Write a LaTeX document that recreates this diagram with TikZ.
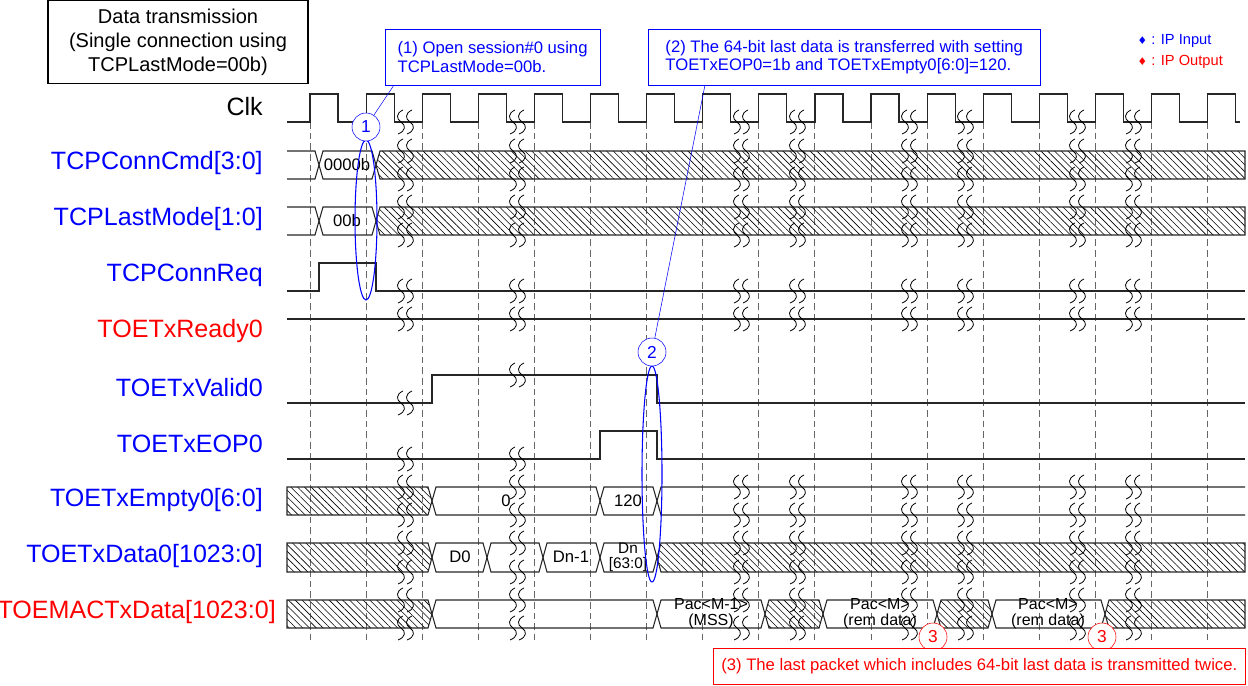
\documentclass[tikz,border=0pt]{standalone}
\usepackage{fontspec}
\setmainfont{Liberation Sans}
\newfontfamily\djv{DejaVu Sans}
\usetikzlibrary{patterns.meta}
\definecolor{lblue}{RGB}{0,0,255}
\definecolor{lred}{RGB}{255,0,0}
\newcommand\hexa[5]{\draw[#1] (#2,{(#4+#5)/2})--({#2+4},#4)--({#3-4},#4)--(#3,{(#4+#5)/2})--({#3-4},#5)--({#2+4},#5)--cycle;}
\newcommand\hatchL[3]{\draw[hatchbus] (287,#2)--({#1-4},#2)--(#1,{(#2+#3)/2})--({#1-4},#3)--(287,#3)--cycle;}
\newcommand\hatchR[3]{\draw[hatchbus] (1245,#2)--({#1+4},#2)--(#1,{(#2+#3)/2})--({#1+4},#3)--(1245,#3)--cycle;}
\newcommand\brk[2]{\draw[line width=0.6pt,black] ({#1-3},{#2-12}) .. controls ({#1-10},{#2-9}) and ({#1-10},{#2-3}) .. ({#1-5},#2) .. controls ({#1},{#2+3}) and ({#1},{#2+9}) .. ({#1-8},{#2+12});
\draw[line width=0.6pt,black] ({#1+6},{#2-12}) .. controls ({#1-1},{#2-9}) and ({#1-1},{#2-3}) .. ({#1+4},#2) .. controls ({#1+9},{#2+3}) and ({#1+9},{#2+9}) .. ({#1+1},{#2+12});}
\newcommand\brkall[1]{\foreach \bx in {406,518,742,798,910,966,1078,1134}{\brk{\bx}{#1}}}
\tikzset{
 sig/.style={line width=0.9pt,black!85},
 bus/.style={line width=0.8pt,black!85},
 hatchbus/.style={line width=0.8pt,black!85,pattern={Lines[angle=-45,distance=3.6pt,line width=0.45pt]}},
 lbl/.style={anchor=east,inner sep=0pt,font=\fontsize{18.8}{20}\selectfont},
 btxt/.style={font=\fontsize{12.5}{13}\selectfont,align=center,inner sep=0pt},
 grid/.style={dashed,black!60,line width=0.7pt,dash pattern=on 5pt off 3pt},
 note/.style={draw=lblue,text=lblue,font=\fontsize{12.5}{14}\selectfont,align=left,inner sep=3pt,fill=white},
 circ/.style={circle,draw,minimum size=21pt,inner sep=0pt,font=\fontsize{13}{13}\selectfont,fill=white}
}
\begin{document}
\begin{tikzpicture}[x=0.75pt,y=-0.75pt]
\useasboundingbox (0,0) rectangle (1248,685);
% grid
\foreach \k in {0,...,16}{\draw[grid] ({310+56.1*\k},122)--({310+56.1*\k},640);}
% labels
\node[lbl] (l1) at (263,107) {Clk};
\node[lbl,text=lblue] (l2) at (263,163) {TCPConnCmd[3:0]};
\node[lbl,text=lblue] (l3) at (263,219) {TCPLastMode[1:0]};
\node[lbl,text=lblue] (l4) at (263,275) {TCPConnReq};
\node[lbl,text=lred] (l5) at (263,331) {TOETxReady0};
\node[lbl,text=lblue] (l6) at (263,388) {TOETxValid0};
\node[lbl,text=lblue] (l7) at (263,444) {TOETxEOP0};
\node[lbl,text=lblue] (l8) at (263,500) {TOETxEmpty0[6:0]};
\node[lbl,text=lblue] (l9) at (263,556) {TOETxData0[1023:0]};
\node[lbl,text=lred] (l10) at (276,612) {TOEMACTxData[1023:0]};
% clock
\draw[sig] (287,122) \foreach \k in {0,...,16}{ -- ({310+56.1*\k},122) -- ({310+56.1*\k},94) -- ({338+56.1*\k},94) -- ({338+56.1*\k},122)} -- (1240,122);
\brkall{122}
% ConnCmd
\draw[bus] (287,151)--(315,151)--(319,165)--(315,179)--(287,179);
\hexa{bus}{319}{376}{151}{179}
\node[btxt] (t1) at (347,165) {0000b};
\hatchR{376}{151}{179}
\brkall{151}\brkall{179}
% LastMode
\draw[bus] (287,207)--(315,207)--(319,221)--(315,235)--(287,235);
\hexa{bus}{319}{376}{207}{235}
\node[btxt] (t2) at (347,221) {00b};
\hatchR{376}{207}{235}
\brkall{207}\brkall{235}
% ConnReq
\draw[sig] (287,291)--(319,291)--(319,263)--(376,263)--(376,291)--(1245,291);
\brkall{291}
% Ready
\draw[sig] (287,319)--(1245,319);
\brkall{319}
% Valid
\draw[sig] (287,403)--(432,403)--(432,375)--(657,375)--(657,403)--(1245,403);
\brk{406}{403}\brk{518}{375}
% EOP
\draw[sig] (287,459)--(600,459)--(600,431)--(657,431)--(657,459)--(1245,459);
\brk{406}{459}\brk{518}{459}
% Empty
\hatchL{432}{487}{515}
\hexa{bus}{432}{600}{487}{515}
\hexa{bus}{600}{657}{487}{515}
\draw[bus] (1245,487)--(661,487)--(657,501)--(661,515)--(1245,515);
\node[btxt] (t3) at (506,501) {0};
\node[btxt] (t4) at (628,501) {120};
\brkall{487}\brkall{515}
% Data0
\hatchL{432}{543}{572}
\hexa{bus}{432}{487}{543}{572}
\hexa{bus}{487}{543}{543}{572}
\hexa{bus}{543}{600}{543}{572}
\hexa{bus}{600}{657}{543}{572}
\hatchR{657}{543}{572}
\node[btxt] (t5) at (460,557) {D0};
\node[btxt] (t6) at (571,557) {Dn-1};
\node[btxt,font=\fontsize{11.5}{11}\selectfont] (t7) at (628,557) {Dn\\{}[63:0]};
\brkall{543}\brkall{572}
% MAC
\hatchL{432}{600}{628}
\hexa{bus}{432}{657}{600}{628}
\hexa{bus}{657}{765}{600}{628}
\hexa{hatchbus}{765}{823}{600}{628}
\hexa{bus}{823}{937}{600}{628}
\hexa{hatchbus}{937}{992}{600}{628}
\hexa{bus}{992}{1105}{600}{628}
\hatchR{1105}{600}{628}
\node[btxt,font=\fontsize{12}{12}\selectfont] (t8) at (711,614) {Pac<M-1>\\(MSS)};
\node[btxt,font=\fontsize{12}{12}\selectfont] (t9) at (880,614) {Pac<M>\\(rem data)};
\node[btxt,font=\fontsize{12}{12}\selectfont] (t10) at (1048,614) {Pac<M>\\(rem data)};
\brkall{600}\brkall{628}
% title
\node[draw,line width=0.8pt,minimum width=195pt,minimum height=62pt,align=center,font=\fontsize{15}{18}\selectfont,inner sep=3pt] (title) at (178,42) {Data transmission\\(Single connection using\\TCPLastMode=00b)};
% legend
\node[anchor=west,text=lblue,font=\fontsize{11}{12}\selectfont] (lg1) at (1133,41) {{\djv\fontsize{8}{8}\selectfont ♦} : IP Input};
\node[anchor=west,text=lred,font=\fontsize{11}{12}\selectfont] (lg2) at (1133,62) {{\djv\fontsize{8}{8}\selectfont ♦} : IP Output};
% annotations
\node[note,minimum width=161pt,minimum height=42pt,anchor=north west] (n1) at (385,29) {(1) Open session\#0 using\\TCPLastMode=00b.};
\node[note,minimum width=294pt,minimum height=42pt,anchor=north west] (n2) at (648,29) {(2) The 64-bit last data is transferred with setting\\TOETxEOP0=1b and TOETxEmpty0[6:0]=120.};
\draw[lblue,line width=0.8pt] (366,220) ellipse [x radius=11,y radius=80];
\node[circ,draw=lblue,text=lblue] (c1) at (366,127) {1};
\draw[lblue] (c1) -- (394,85);
\draw[lblue,line width=0.8pt] (652,474) ellipse [x radius=10,y radius=108];
\node[circ,draw=lblue,text=lblue] (c2) at (652,352) {2};
\draw[lblue] (c2) -- (705,85);
\node[circ,draw=lred,text=lred] (c3) at (933,637) {3};
\node[circ,draw=lred,text=lred] (c4) at (1102,637) {3};
\node[draw=lred,text=lred,minimum width=399pt,minimum height=27pt,font=\fontsize{12.5}{14}\selectfont,anchor=north west,fill=white] (n3) at (713,648) {(3) The last packet which includes 64-bit last data is transmitted twice.};
\end{tikzpicture}
\end{document}
